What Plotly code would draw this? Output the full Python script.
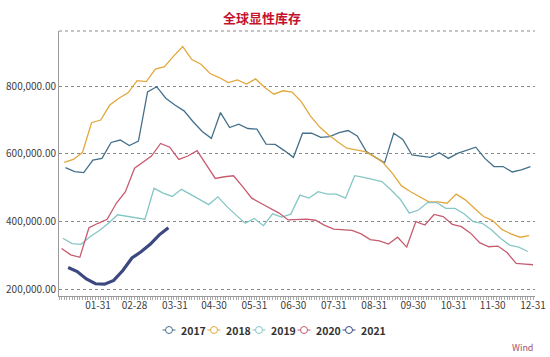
import plotly.graph_objects as go
import pandas as pd

# ---------------- data ----------------
chart_title = "全球显性库存"
source_text = "Wind"

series_names = ["2017", "2018", "2019", "2020", "2021"]
# first weekly (Friday) observation of each year
start_dates = {"2017": "2017-01-06", "2018": "2018-01-05", "2019": "2019-01-04",
               "2020": "2020-01-03", "2021": "2021-01-08"}
# extra, off-schedule observation dates appended after the weekly ones
extra_dates = {"2020": ["2020-12-31"]}

values_2017 = [560000, 548000, 545000, 582000, 587000, 634000, 641000, 625000, 638000, 783000,
               798000, 764000, 744000, 727000, 695000, 666000, 646000, 722000, 678000, 688000,
               675000, 673000, 629000, 628000, 610000, 590000, 661000, 661000, 649000, 651000,
               663000, 669000, 653000, 607000, 590000, 574000, 661000, 643000, 597000, 594000,
               590000, 604000, 587000, 602000, 612000, 620000, 587000, 563000, 563000, 547000,
               553000, 563000]
values_2018 = [575000, 584000, 604000, 692000, 700000, 744000, 764000, 780000, 816000, 813000,
               850000, 857000, 888000, 916000, 878000, 864000, 837000, 825000, 810000, 818000,
               806000, 821000, 796000, 776000, 786000, 782000, 754000, 712000, 680000, 656000,
               636000, 617000, 612000, 607000, 593000, 574000, 543000, 506000, 489000, 475000,
               459000, 459000, 455000, 482000, 465000, 440000, 416000, 404000, 378000, 365000,
               355000, 360000]
values_2019 = [352000, 336000, 334000, 357000, 375000, 396000, 421000, 417000, 412000, 408000,
               499000, 485000, 475000, 496000, 481000, 466000, 451000, 474000, 445000, 420000,
               396000, 410000, 389000, 424000, 414000, 423000, 479000, 470000, 489000, 482000,
               482000, 470000, 536000, 531000, 526000, 519000, 494000, 467000, 426000, 435000,
               457000, 457000, 440000, 440000, 424000, 401000, 396000, 377000, 352000, 332000,
               326000, 313000]
values_2020 = [322000, 303000, 296000, 383000, 396000, 408000, 455000, 489000, 558000, 574000,
               594000, 631000, 620000, 584000, 594000, 610000, 568000, 528000, 533000, 536000,
               504000, 470000, 455000, 440000, 426000, 406000, 406000, 408000, 405000, 390000,
               379000, 378000, 375000, 365000, 348000, 344000, 335000, 355000, 326000, 401000,
               391000, 422000, 416000, 393000, 386000, 367000, 339000, 327000, 329000, 310000,
               278000, 276000, 274000]
values_2021 = [266000, 254000, 232000, 218000, 217000, 228000, 257000, 294000, 312000, 334000,
               362000, 383000]

series_values = {"2017": values_2017, "2018": values_2018, "2019": values_2019,
                 "2020": values_2020, "2021": values_2021}

x_tick_vals = ["2017-01-31", "2017-02-28", "2017-03-31", "2017-04-30", "2017-05-31", "2017-06-30",
               "2017-07-31", "2017-08-31", "2017-09-30", "2017-10-31", "2017-11-30", "2017-12-31"]
x_tick_text = ["01-31", "02-28", "03-31", "04-30", "05-31", "06-30",
               "07-31", "08-31", "09-30", "10-31", "11-30", "12-31"]
y_tick_vals = [200000, 400000, 600000, 800000]

# ---------------- styles ----------------
colors = {"2017": "#44708a", "2018": "#e2a83e", "2019": "#86c6c6",
          "2020": "#c75b6f", "2021": "#3c4880"}
widths = {"2017": 1.3, "2018": 1.3, "2019": 1.3, "2020": 1.3, "2021": 3.2}
FONT = "Noto Sans CJK SC, Noto Sans, Open Sans, sans-serif"

W, H = 550, 357
ML, MR, MT, MB = 59, 15, 31, 61
PW, PH = W - ML - MR, H - MT - MB


def px_x(px):
    return (px - ML) / PW


def px_y(py):
    return (H - MB - py) / PH


def series_dates(name):
    vals = series_values[name]
    extras = extra_dates.get(name, [])
    weekly = pd.date_range(start_dates[name], periods=len(vals) - len(extras), freq="7D")
    all_dates = list(weekly) + [pd.Timestamp(d) for d in extras]
    # overlay every year on a common calendar (month-day)
    return [d.strftime("2017-%m-%d") for d in all_dates]


fig = go.Figure()
for name in series_names:
    fig.add_trace(go.Scatter(
        x=series_dates(name), y=series_values[name], name=name, mode="lines",
        line=dict(color=colors[name], width=widths[name]), showlegend=False,
    ))

# ---------------- legend (drawn to match the compact original) ----------------
shapes = []
annotations = []
leg_y = 330
for k, name in enumerate(series_names):
    cx = 169 + 45 * k
    shapes.append(dict(type="line", xref="paper", yref="paper",
                       x0=px_x(cx - 6.5), x1=px_x(cx + 6.5), y0=px_y(leg_y), y1=px_y(leg_y),
                       line=dict(color=colors[name], width=1)))
    shapes.append(dict(type="circle", xref="paper", yref="paper",
                       x0=px_x(cx - 3.5), x1=px_x(cx + 3.5),
                       y0=px_y(leg_y + 3.5), y1=px_y(leg_y - 3.5),
                       fillcolor="white", line=dict(color=colors[name], width=1)))
    annotations.append(dict(text="<b>" + name + "</b>", xref="paper", yref="paper",
                            x=px_x(cx + 10), y=px_y(leg_y), xanchor="left", yanchor="middle",
                            showarrow=False, font=dict(family=FONT, size=10.5, color="#333333")))

# dotted top border of plot
shapes.append(dict(type="line", xref="paper", yref="paper", x0=0, x1=1, y0=1, y1=1,
                   line=dict(color="#8a8a8a", width=1, dash="dot")))

annotations.append(dict(text=source_text, xref="paper", yref="paper", x=1.0, y=px_y(347),
                        xanchor="right", yanchor="middle", showarrow=False,
                        font=dict(family=FONT, size=9, color="#a0506e")))

fig.update_layout(
    width=W, height=H,
    margin=dict(l=ML, r=MR, t=MT, b=MB, autoexpand=False),
    paper_bgcolor="white", plot_bgcolor="white",
    title=dict(text="<b>" + chart_title + "</b>", x=262 / W, xref="container", xanchor="center",
               y=1 - 18 / H, yref="container", yanchor="middle",
               font=dict(family=FONT, size=13, color="#c3122e")),
    showlegend=False,
    shapes=shapes,
    annotations=annotations,
    xaxis=dict(type="date", range=["2017-01-01", "2018-01-01 12:00"], automargin=False,
               tickmode="array", tickvals=x_tick_vals, ticktext=x_tick_text,
               showgrid=False, zeroline=False, showline=True, linecolor="#9a9a9a", linewidth=1,
               ticks="", tickfont=dict(family=FONT, size=10, color="#404040"),
               minor=dict(ticks="outside", ticklen=3, tickcolor="#a8a8a8", tickwidth=1,
                          dtick=2 * 86400000, showgrid=False)),
    yaxis=dict(range=[182000, 962000], tickmode="array", tickvals=y_tick_vals, automargin=False,
               tickformat=",.2f", showgrid=True, gridcolor="#8a8a8a", griddash="dot",
               gridwidth=1, zeroline=False, showline=True, linecolor="#9a9a9a", linewidth=1,
               ticks="", tickfont=dict(family=FONT, size=10, color="#404040")),
)

# remove the browser's default page margin so the figure sits at the window's corner
fig.write_html("out.html", config={"displayModeBar": False},
               post_script="document.body.style.margin='0px';")
